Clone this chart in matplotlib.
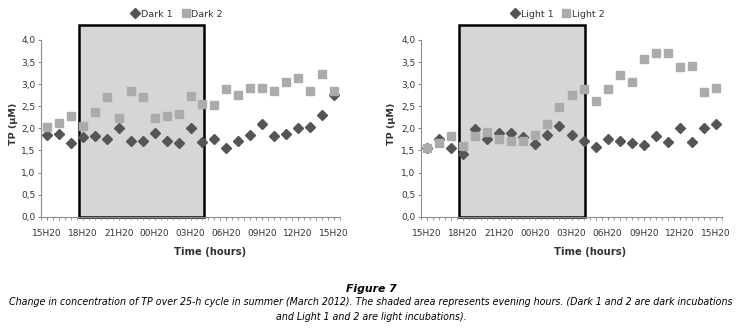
import matplotlib
matplotlib.use("Agg")
import matplotlib.pyplot as plt
import numpy as np
from matplotlib.patches import Rectangle

plt.rcParams['font.family'] = ['DejaVu Sans']

# hours after 15H20 (one sample per hour, 25-h cycle)
hours = np.arange(25)
tick_hours = [0, 3, 6, 9, 12, 15, 18, 21, 24]
tick_labels = ['15H20', '18H20', '21H20', '00H20', '03H20',
               '06H20', '09H20', '12H20', '15H20']

dark1 = [1.85, 1.87, 1.66, 1.81, 1.83, 1.75, 2.00, 1.72, 1.72, 1.89, 1.71, 1.66, 2.00,
         1.70, 1.75, 1.55, 1.72, 1.85, 2.10, 1.83, 1.87, 2.00, 2.04, 2.30, 2.75]
dark2 = [2.04, 2.11, 2.28, 2.05, 2.38, 2.71, 2.23, 2.85, 2.71, 2.23, 2.28, 2.32, 2.74,
         2.55, 2.53, 2.90, 2.75, 2.92, 2.92, 2.85, 3.05, 3.15, 2.85, 3.24, 2.85]
light1 = [1.55, 1.77, 1.55, 1.41, 1.98, 1.76, 1.90, 1.90, 1.80, 1.64, 1.85, 2.05, 1.86,
          1.71, 1.57, 1.75, 1.72, 1.66, 1.63, 1.83, 1.70, 2.00, 1.70, 2.00, 2.10]
light2 = [1.56, 1.67, 1.83, 1.60, 1.83, 1.92, 1.77, 1.72, 1.72, 1.85, 2.10, 2.49, 2.75,
          2.88, 2.62, 2.88, 3.21, 3.05, 3.58, 3.71, 3.71, 3.38, 3.41, 2.83, 2.92]

# evening hours (shaded box)
night_start, night_end = 2.65, 13.1

dark_col = '#555555'
light_col = '#ababab'
axis_col = '#8c8c8c'
text_col = '#333333'

fig = plt.figure(figsize=(7.42, 3.32), dpi=100)
ax1 = fig.add_axes([41/742, 1-216.7/332, 299/742, 176.7/332])
ax2 = fig.add_axes([421/742, 1-216.7/332, 301/742, 176.7/332])

panels = [(ax1, dark1, dark2, 'Dark 1', 'Dark 2', 14, 210),
          (ax2, light1, light2, 'Light 1', 'Light 2', 392, 590)]

for ax, s1, s2, n1, n2, ylx, xlx in panels:
    ax.add_patch(Rectangle((night_start, 0), night_end - night_start, 4.34,
                           facecolor='#d6d6d6', edgecolor='black', lw=1.8,
                           clip_on=False, zorder=1))
    ax.plot(hours, s1, linestyle='none', marker='D', ms=5.6, color=dark_col,
            label=n1, zorder=3)
    ax.plot(hours, s2, linestyle='none', marker='s', ms=6.2, color=light_col,
            label=n2, zorder=3)

    ax.set_xlim(-0.5, 24.5)
    ax.set_ylim(0, 4.0)
    ax.set_xticks(tick_hours)
    ax.set_xticklabels(tick_labels)
    ax.set_xticks(np.arange(-0.5, 24.6, 0.5), minor=True)
    ax.set_yticks(np.arange(0, 4.01, 0.5))
    ax.set_yticklabels([('%.1f' % v).replace('.', ',') for v in np.arange(0, 4.01, 0.5)])
    ax.tick_params(axis='both', which='both', direction='out', length=2.5,
                   color=axis_col, labelsize=6.5, labelcolor=text_col)
    ax.tick_params(axis='x', pad=6)
    ax.tick_params(axis='y', pad=1.5)
    for sp in ['top', 'right']:
        ax.spines[sp].set_visible(False)
    for sp in ['left', 'bottom']:
        ax.spines[sp].set_color(axis_col)
        ax.spines[sp].set_linewidth(0.8)

    ax.legend(loc='center', bbox_to_anchor=(0.455, 1.147), ncol=2, frameon=False,
              fontsize=6.8, handlelength=0.8, handletextpad=0.2, columnspacing=1.0,
              labelcolor=text_col)

    fig.text(ylx/742, 1-124/332, 'TP (µM)', rotation=90, ha='center', va='center',
             fontsize=6.8, fontweight='bold', color=text_col)
    fig.text(xlx/742, 1-251.7/332, 'Time (hours)', ha='center', va='center',
             fontsize=7.2, fontweight='bold', color=text_col)

fig.text(0.5, 1-289/332, 'Figure 7', ha='center', va='center', fontsize=7.8,
         fontweight='bold', style='italic')
fig.text(0.5, 1-302/332,
         'Change in concentration of TP over 25-h cycle in summer (March 2012). '
         'The shaded area represents evening hours. (Dark 1 and 2 are dark incubations',
         ha='center', va='center', fontsize=6.85, style='italic')
fig.text(0.5, 1-317/332, 'and Light 1 and 2 are light incubations).',
         ha='center', va='center', fontsize=6.85, style='italic')

fig.savefig('out.png', dpi=100)
